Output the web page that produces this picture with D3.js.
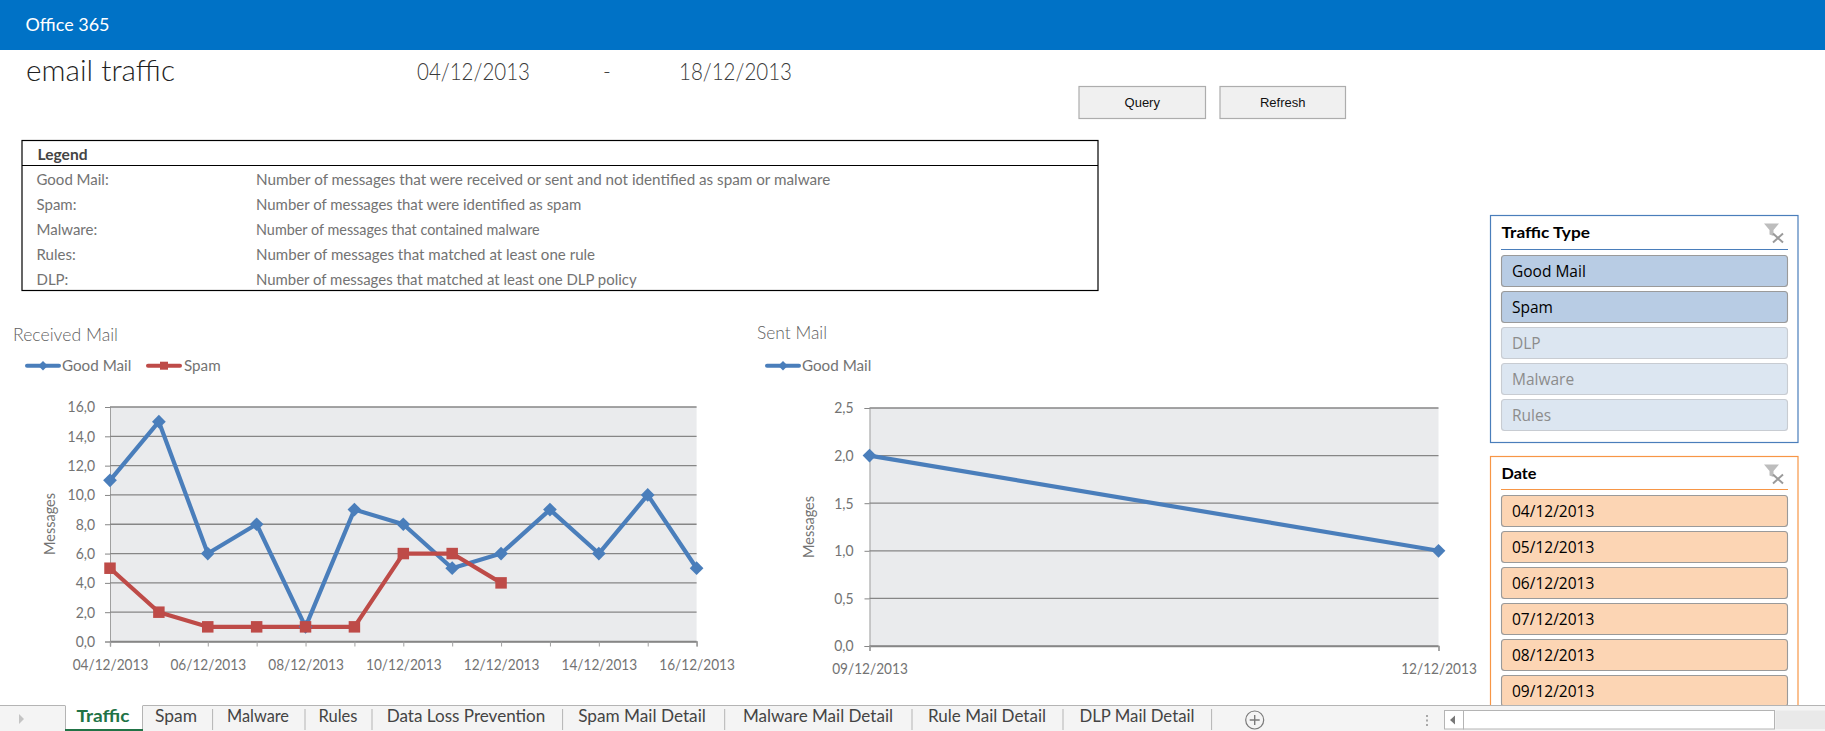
<!DOCTYPE html>
<html>
<head>
<meta charset="utf-8">
<title>email traffic</title>
<script src="https://cdn.jsdelivr.net/npm/d3@7"></script>
<style>
  html, body { margin: 0; padding: 0; background: #fff; overflow: hidden; }
  text { font-family: Lato, "Open Sans", sans-serif; }
</style>
</head>
<body>
<svg id="page" width="1825" height="731"></svg>
<script>
// datos
const receivedDates = ["04/12/2013","05/12/2013","06/12/2013","07/12/2013","08/12/2013","09/12/2013","10/12/2013","11/12/2013","12/12/2013","13/12/2013","14/12/2013","15/12/2013","16/12/2013"];
const receivedGood = [11, 15, 6, 8, 1, 9, 8, 5, 6, 9, 6, 10, 5];
const receivedSpam = [5, 2, 1, 1, 1, 1, 6, 6, 4];
const receivedTicks = [0, 2, 4, 6, 8, 10, 12, 14, 16];
const receivedDateLabels = ["04/12/2013","06/12/2013","08/12/2013","10/12/2013","12/12/2013","14/12/2013","16/12/2013"];

const sentDates = ["09/12/2013", "12/12/2013"];
const sentGood = [2, 1];
const sentTicks = [0, 0.5, 1, 1.5, 2, 2.5];

const legendRows = ["Good Mail:", "Spam:", "Malware:", "Rules:", "DLP:"];
const legendTexts = [
  "Number of messages that were received or sent and not identified as spam or malware",
  "Number of messages that were identified as spam",
  "Number of messages that contained malware",
  "Number of messages that matched at least one rule",
  "Number of messages that matched at least one DLP policy"
];
const trafficTypes = ["Good Mail", "Spam", "DLP", "Malware", "Rules"];
const trafficActive = ["Good Mail", "Spam"];
const dateFilters = ["04/12/2013","05/12/2013","06/12/2013","07/12/2013","08/12/2013","09/12/2013"];
const sheetTabs = ["Traffic","Spam","Malware","Rules","Data Loss Prevention","Spam Mail Detail","Malware Mail Detail","Rule Mail Detail","DLP Mail Detail"];
const tabCenters = [103, 176, 258, 338, 466, 642, 818, 987, 1137];
const tabWidths = [53, 42, 62, 39, 158.5, 127.7, 150, 118, 115];
const tabSeparators = [212.6, 305, 372, 562.6, 724.7, 912, 1063, 1211.6];

const BLUE = "#4a7ebb", RED = "#be4b48", GRID = "#868686", TXT = "#737373";

const svg = d3.select("#page");
const parseDate = d3.timeParse("%d/%m/%Y");
const comma = (v) => v.toFixed(1).replace(".", ",");

// encoge el texto en horizontal, Lato es mas ancha que la fuente original
const squeeze = (sel, factor) => {
  sel.each(function () {
    const len = this.getComputedTextLength();
    if (len > 0) d3.select(this).attr("textLength", len * factor).attr("lengthAdjust", "spacingAndGlyphs");
  });
};

const addText = (x, y, str, size, fill, opts = {}) => {
  const t = svg.append("text")
    .attr("x", x).attr("y", y)
    .attr("dy", "0.35em")
    .attr("font-size", size)
    .attr("fill", fill)
    .attr("text-anchor", opts.anchor || "start")
    .attr("font-weight", opts.weight || 400)
    .text(str);
  if (opts.family) t.style("font-family", opts.family);
  if (opts.width) t.attr("textLength", opts.width).attr("lengthAdjust", "spacingAndGlyphs");
  return t;
};

// cabecera
svg.append("rect").attr("width", 1825).attr("height", 50).attr("fill", "#0072c6");
addText(25.5, 25, "Office 365", 17.5, "#fff", { width: 84 });
addText(26, 70, "email traffic", 30, "#1f1f1f", { width: 149, weight: 300 });
addText(417, 72, "04/12/2013", 23, "#3a3a3a", { width: 113, weight: 300 });
addText(603, 72, "-", 21, "#3a3a3a", { weight: 300 });
addText(679, 72, "18/12/2013", 23, "#3a3a3a", { width: 113, weight: 300 });

[["Query", 1079, 126.5], ["Refresh", 1220, 125.5]].forEach(([label, x, w]) => {
  svg.append("rect").attr("x", x).attr("y", 86.5).attr("width", w).attr("height", 32)
    .attr("fill", "#f0f0f0").attr("stroke", "#adadad").attr("stroke-width", 1.2);
  addText(x + w / 2, 102.5, label, 13, "#111", { anchor: "middle", family: "Liberation Sans" });
});

// tabla de leyenda
svg.append("rect").attr("x", 22).attr("y", 140.5).attr("width", 1076).attr("height", 150)
  .attr("fill", "#fff").attr("stroke", "#000").attr("stroke-width", 1.2);
svg.append("line").attr("x1", 22).attr("x2", 1098).attr("y1", 165.5).attr("y2", 165.5)
  .attr("stroke", "#000").attr("stroke-width", 1.2);
addText(37.5, 155, "Legend", 15, "#444", { weight: 700, width: 50 });
legendRows.forEach((r, i) => {
  addText(36.5, 180 + i * 25, r, 15, TXT);
  addText(256, 180 + i * 25, legendTexts[i], 15, TXT, { width: legendTexts[i].length * 6.92 });
});

const marker = (g, type, color, x, y) => {
  const size = type === "diamond" ? 120 : 132;
  g.append("path")
    .attr("transform", `translate(${x},${y})`)
    .attr("d", d3.symbol().type(type === "diamond" ? d3.symbolDiamond2 : d3.symbolSquare).size(size)())
    .attr("fill", color);
};

const legendKey = (x, y, type, color, label, labelX) => {
  svg.append("line").attr("x1", x).attr("x2", x + 32).attr("y1", y).attr("y2", y)
    .attr("stroke", color).attr("stroke-width", 4).attr("stroke-linecap", "round");
  svg.append("path")
    .attr("transform", `translate(${x + 16},${y})`)
    .attr("d", d3.symbol().type(type === "diamond" ? d3.symbolDiamond2 : d3.symbolSquare).size(type === "diamond" ? 58 : 64)())
    .attr("fill", color);
  addText(labelX, y - 0.5, label, 15.5, TXT).call(squeeze, 0.98);
};

// dibuja un grafico de lineas
const drawChart = (cfg) => {
  const x = d3.scaleTime().domain([parseDate(cfg.dates[0]), parseDate(cfg.dates[cfg.dates.length - 1])]).range(cfg.xRange);
  const y = d3.scaleLinear().domain(cfg.yDomain).range(cfg.yRange);
  const g = svg.append("g");

  g.append("rect").attr("x", cfg.xRange[0]).attr("y", cfg.yRange[1])
    .attr("width", cfg.xRange[1] - cfg.xRange[0]).attr("height", cfg.yRange[0] - cfg.yRange[1])
    .attr("fill", "#eaebed");

  const axisY = d3.axisLeft(y).tickValues(cfg.yTicks).tickSize(5).tickPadding(cfg.yPad).tickFormat(comma);
  const gy = g.append("g").attr("transform", `translate(${cfg.xRange[0]},0)`).call(axisY);
  gy.selectAll("line").attr("stroke", GRID).attr("stroke-width", 1);
  gy.select(".domain").attr("stroke", "#a0a0a0").attr("stroke-width", 1);
  gy.selectAll("text").attr("font-size", 15.5).attr("fill", TXT).style("font-family", "Lato").call(squeeze, 0.9);

  g.append("g").selectAll("line").data(cfg.yTicks).join("line")
    .attr("x1", cfg.xRange[0]).attr("x2", cfg.xRange[1])
    .attr("y1", (d) => y(d)).attr("y2", (d) => y(d))
    .attr("stroke", GRID).attr("stroke-width", 1.3);

  const axisX = d3.axisBottom(x).tickValues(cfg.xTickDates).tickSize(5).tickPadding(cfg.xPad)
    .tickFormat((d) => cfg.xLabels.includes(d3.timeFormat("%d/%m/%Y")(d)) ? d3.timeFormat("%d/%m/%Y")(d) : "");
  const gx = g.append("g").attr("transform", `translate(0,${cfg.yRange[0]})`).call(axisX);
  gx.select(".domain").attr("stroke", GRID).attr("stroke-width", 1.3);
  gx.selectAll("line").attr("stroke", "#a0a0a0");
  gx.selectAll("text").attr("font-size", 15.5).attr("fill", TXT).style("font-family", "Lato").call(squeeze, 0.88);

  const line = d3.line().x((d, i) => x(parseDate(cfg.dates[i]))).y((d) => y(d));
  cfg.series.forEach((s) => {
    g.append("path").attr("d", line(s.values)).attr("fill", "none")
      .attr("stroke", s.color).attr("stroke-width", 4.2).attr("stroke-linejoin", "round");
  });
  cfg.series.forEach((s) => {
    s.values.forEach((v, i) => marker(g, s.type, s.color, x(parseDate(cfg.dates[i])), y(v)));
  });

  svg.append("text")
    .attr("transform", `translate(${cfg.labelX},${cfg.labelY}) rotate(-90)`)
    .attr("dy", "0.35em").attr("text-anchor", "middle")
    .attr("font-size", 15.5).attr("fill", TXT).text("Messages")
    .attr("textLength", 62).attr("lengthAdjust", "spacingAndGlyphs");
};

addText(13, 334.5, "Received Mail", 18.5, "#5f5f5f", { width: 105, weight: 300 });
addText(757, 332.5, "Sent Mail", 18.5, "#5f5f5f", { width: 70, weight: 300 });
legendKey(27, 365.7, "diamond", BLUE, "Good Mail", 62);
legendKey(148, 365.7, "square", RED, "Spam", 184);
legendKey(767, 365.7, "diamond", BLUE, "Good Mail", 802);

drawChart({
  dates: receivedDates,
  xRange: [110, 696.6],
  yRange: [641.5, 407],
  yDomain: [0, 16],
  yTicks: receivedTicks,
  yPad: 10,
  xPad: 12,
  xTickDates: receivedDates.map(parseDate),
  xLabels: receivedDateLabels,
  labelX: 50,
  labelY: 524,
  series: [
    { values: receivedGood, color: BLUE, type: "diamond" },
    { values: receivedSpam, color: RED, type: "square" }
  ]
});

drawChart({
  dates: sentDates,
  xRange: [869.5, 1438.5],
  yRange: [646, 408],
  yDomain: [0, 2.5],
  yTicks: sentTicks,
  yPad: 11,
  xPad: 12,
  xTickDates: sentDates.map(parseDate),
  xLabels: sentDates,
  labelX: 809,
  labelY: 527,
  series: [{ values: sentGood, color: BLUE, type: "diamond" }]
});

// segmentaciones
const filterIcon = (x, y) => {
  svg.append("path")
    .attr("d", `M${x},${y}h15l-5.5,6.5v6l-4,-1.5v-4.5z`)
    .attr("fill", "#bdbdbd");
  svg.append("path")
    .attr("d", `M${x + 9},${y + 10}l10,9M${x + 19},${y + 10}l-10,9`)
    .attr("stroke", "#9a9a9a").attr("stroke-width", 2);
};

const slicer = (top, height, titleY, ruleY, firstY, title, titleWidth, frame, items, styleFor) => {
  svg.append("rect").attr("x", 1490.5).attr("y", top).attr("width", 307.5).attr("height", height)
    .attr("fill", "#fff").attr("stroke", frame).attr("stroke-width", 1.2);
  svg.append("line").attr("x1", 1501).attr("x2", 1788).attr("y1", ruleY).attr("y2", ruleY)
    .attr("stroke", frame).attr("stroke-width", 1.2);
  addText(1501.5, titleY, title, 16, "#000", { weight: 700, width: titleWidth });
  filterIcon(1764, top + 8);
  items.forEach((it, i) => {
    const st = styleFor(it);
    svg.append("rect").attr("x", 1501.5).attr("y", firstY + i * 36).attr("width", 286).attr("height", 31)
      .attr("rx", 3).attr("fill", st.fill).attr("stroke", st.stroke).attr("stroke-width", 1.1);
    addText(1512, firstY + i * 36 + 16, it, 15.5, st.text, { family: "Open Sans" });
  });
};

slicer(215.5, 227, 232, 249.5, 255.5, "Traffic Type", 88.5, "#4a7ebb", trafficTypes, (t) =>
  trafficActive.includes(t)
    ? { fill: "#b8cce4", stroke: "#9a9a9a", text: "#000" }
    : { fill: "#dce6f1", stroke: "#c8ccd2", text: "#8c8c8c" });

slicer(456.5, 300, 473.5, 489.5, 495.5, "Date", 35, "#f79646", dateFilters, () =>
  ({ fill: "#fcd5b4", stroke: "#9a9a9a", text: "#000" }));

// barra de hojas
svg.append("rect").attr("x", 0).attr("y", 705).attr("width", 1825).attr("height", 26).attr("fill", "#f4f4f4");
svg.append("line").attr("x1", 0).attr("x2", 1825).attr("y1", 705.5).attr("y2", 705.5)
  .attr("stroke", "#b4b4b4").attr("stroke-width", 1.2);
svg.append("path").attr("d", "M19,714l5,5l-5,5z").attr("fill", "#c4c4c4");

svg.append("rect").attr("x", 65.5).attr("y", 705).attr("width", 77).attr("height", 26).attr("fill", "#fff");
svg.append("path").attr("d", "M65.5,706V729M142.5,706V729").attr("stroke", "#b4b4b4").attr("fill", "none");
svg.append("rect").attr("x", 65).attr("y", 729).attr("width", 78).attr("height", 2).attr("fill", "#217346");

svg.append("g").selectAll("line").data(tabSeparators).join("line")
  .attr("x1", (d) => d).attr("x2", (d) => d).attr("y1", 709).attr("y2", 730)
  .attr("stroke", "#b4b4b4");

sheetTabs.forEach((t, i) => {
  const active = i === 0;
  addText(tabCenters[i], 716.5, t, 17, active ? "#217346" : "#444", { anchor: "middle", weight: active ? 700 : 400, width: tabWidths[i] });
});

svg.append("circle").attr("cx", 1254.7).attr("cy", 720).attr("r", 9).attr("fill", "none").attr("stroke", "#7a7a7a").attr("stroke-width", 1.2);
svg.append("path").attr("d", "M1249.7,720h10M1254.7,715v10").attr("stroke", "#7a7a7a").attr("stroke-width", 1.4);

svg.append("path").attr("d", "M1427,715v2M1427,719.5v2M1427,724v2").attr("stroke", "#a8a8a8").attr("stroke-width", 2);
svg.append("rect").attr("x", 1444.5).attr("y", 710.5).attr("width", 19).attr("height", 18.5)
  .attr("fill", "#fff").attr("stroke", "#b4b4b4");
svg.append("path").attr("d", "M1455,715.5l-5,4.5l5,4.5z").attr("fill", "#777");
svg.append("rect").attr("x", 1463.5).attr("y", 710.5).attr("width", 311).attr("height", 18.5)
  .attr("fill", "#fff").attr("stroke", "#b4b4b4");
svg.append("rect").attr("x", 1775.5).attr("y", 710.5).attr("width", 49.5).attr("height", 18.5).attr("fill", "#e9e9e9");
</script>
</body>
</html>
